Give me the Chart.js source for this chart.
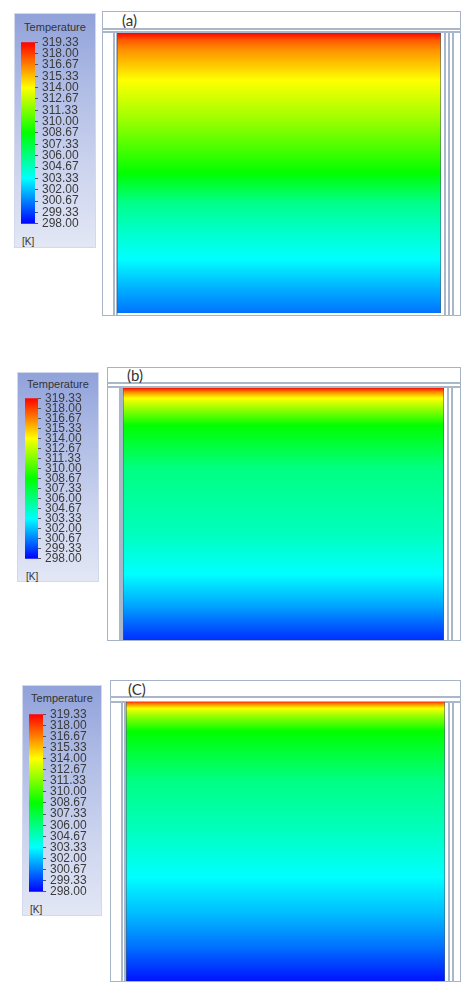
<!DOCTYPE html>
<html>
<head>
<meta charset="utf-8">
<script src="https://cdn.jsdelivr.net/npm/chart.js@4.4.1/dist/chart.umd.min.js"></script>
<style>
  html, body { margin: 0; padding: 0; background: #fff; }
  body { position: relative; width: 462px; height: 983px; overflow: hidden;
         font-family: "Liberation Sans", Arial, sans-serif; }
  canvas { position: absolute; }
  .legend { position: absolute; box-sizing: border-box; border: 1px solid #d3d9ec;
            background: linear-gradient(to bottom, #91a2da 0%, #aebbe5 30%, #cbd3ee 65%, #e3e7f5 100%); }
  .legend .ttl { position: absolute; left: 0; right: 0; text-align: center;
                 font-size: 11px; line-height: 12px; color: #333; }
  .legend .unit { position: absolute; font-size: 10px; line-height: 11px; color: #333; }
  .frame { position: absolute; box-sizing: border-box; border: 1.5px solid #a6b4c8; }
  .ln { position: absolute; background: #a9b7ca; }
  .edge { position: absolute; background: rgba(70, 95, 115, 0.55); }
  .tag { position: absolute; font-family: Lato, "Open Sans", sans-serif;
         font-size: 15px; line-height: 15px; color: #333; }
</style>
</head>
<body>
<script>
// Temperature scale of the contour legend [K]
const TEMP_MIN = 298.00;
const TEMP_MAX = 319.33;
const tickLabels = ['319.33', '318.00', '316.67', '315.33', '314.00', '312.67', '311.33',
                    '310.00', '308.67', '307.33', '306.00', '304.67', '303.33', '302.00',
                    '300.67', '299.33', '298.00'];

// Vertical temperature profiles (relative height 0 = bottom, 1 = top)
const heightA = [0.000, 0.082, 0.189, 0.296, 0.393, 0.500, 0.689, 0.832, 0.939, 0.975, 1.000];
const tempA   = [300.4, 301.6, 303.3, 304.5, 305.8, 308.7, 311.9, 314.0, 316.3, 317.5, 319.3];

const heightB = [0.000, 0.020, 0.139, 0.258, 0.417, 0.683, 0.853, 0.921, 0.960, 0.984, 1.000];
const tempB   = [299.0, 299.3, 301.5, 303.3, 304.7, 306.0, 308.7, 312.0, 314.0, 316.5, 319.0];

const heightC = [0.000, 0.118, 0.237, 0.369, 0.538, 0.717, 0.896, 0.953, 0.978, 0.996, 1.000];
const tempC   = [298.4, 300.3, 301.9, 303.3, 304.7, 305.9, 308.7, 312.0, 314.0, 317.0, 318.5];

const panelTags = ['(a)', '(b)', '(C)'];

// Page layout of the three panels (pixels)
const layouts = [
  { legend: { x: 14, y: 13, w: 82, h: 235, ttl: 7, unitX: 7, unitY: 222 },
    bar: { x: 21, w: 14, top: 39, bottom: 227 }, font: 12,
    frame: { x: 102, y: 11, w: 359, h: 305, strip1: 28, strip2: 31, left: [113, 116], right: [444, 448, 452] },
    plot: { x: 117, y: 33, w: 324, h: 280 }, tag: { x: 122, y: 13 } },
  { legend: { x: 17, y: 372, w: 82, h: 210, ttl: 5, unitX: 8, unitY: 198 },
    bar: { x: 25, w: 13, top: 395, bottom: 562 }, font: 12,
    frame: { x: 107, y: 367, w: 354, h: 274, strip1: 382, strip2: 386, left: [119, 121], right: [447, 451] },
    plot: { x: 123, y: 388, w: 321, h: 252 }, tag: { x: 127, y: 368 } },
  { legend: { x: 22, y: 685, w: 80, h: 231, ttl: 6, unitX: 7, unitY: 218 },
    bar: { x: 29, w: 14, top: 711, bottom: 895 }, font: 12,
    frame: { x: 110, y: 680, w: 351, h: 302, strip1: 696, strip2: 701, left: [121, 124], right: [448, 452] },
    plot: { x: 126, y: 702, w: 319, h: 279 }, tag: { x: 128, y: 682 } }
];

const profiles = [
  { h: heightA, t: tempA },
  { h: heightB, t: tempB },
  { h: heightC, t: tempC }
];

// Fluent-style rainbow: blue -> cyan -> green -> yellow -> red
const RAINBOW = ['rgb(0,0,255)', 'rgb(0,255,255)', 'rgb(0,255,0)', 'rgb(255,255,0)', 'rgb(255,0,0)'];
function rainbow(T) {
  let s = (T - TEMP_MIN) / (TEMP_MAX - TEMP_MIN);
  s = Math.max(0, Math.min(1, s)) * 4;
  const i = Math.min(3, Math.floor(s)), f = s - i;
  const c = [[0, 0, 255], [0, 255, 255], [0, 255, 0], [255, 255, 0], [255, 0, 0]];
  const a = c[i], b = c[i + 1];
  return 'rgb(' + a.map((v, k) => Math.round(v + (b[k] - v) * f)).join(',') + ')';
}
const BREAKS = [0.25, 0.5, 0.75].map(f => TEMP_MIN + f * (TEMP_MAX - TEMP_MIN));

function el(cls, css, text) {
  const d = document.createElement('div');
  d.className = cls;
  Object.assign(d.style, css);
  if (text) d.textContent = text;
  document.body.appendChild(d);
  return d;
}
function px(v) { return v + 'px'; }

function makeCanvas(x, y, w, h) {
  const c = document.createElement('canvas');
  c.width = w; c.height = h;
  c.style.left = px(x); c.style.top = px(y);
  c.style.width = px(w); c.style.height = px(h);
  document.body.appendChild(c);
  return c;
}

const baseOptions = {
  responsive: false, animation: false, events: [],
  devicePixelRatio: 1,
  plugins: { legend: { display: false }, tooltip: { enabled: false } }
};

layouts.forEach((L, idx) => {
  // legend panel
  const lg = el('legend', { left: px(L.legend.x), top: px(L.legend.y), width: px(L.legend.w), height: px(L.legend.h) });
  const t = document.createElement('div');
  t.className = 'ttl'; t.style.top = px(L.legend.ttl); t.textContent = 'Temperature';
  lg.appendChild(t);
  const u = document.createElement('div');
  u.className = 'unit'; u.style.left = px(L.legend.unitX); u.style.top = px(L.legend.unitY); u.textContent = '[K]';
  lg.appendChild(u);

  // colour bar with its tick labels
  const pad = 8;
  const cbW = 72, cbTop = L.bar.top - pad, cbH = (L.bar.bottom - L.bar.top) + 2 * pad;
  const cb = makeCanvas(L.bar.x, cbTop, cbW, cbH);
  const tickValues = tickLabels.map(Number);
  new Chart(cb, {
    type: 'bar',
    data: {
      labels: ['T'],
      datasets: [{
        data: [[TEMP_MIN, TEMP_MAX]],
        borderWidth: 0, borderSkipped: false,
        barPercentage: 1, categoryPercentage: 1,
        backgroundColor: (ctx) => {
          const ch = ctx.chart;
          if (!ch.chartArea) return 'rgba(0,0,0,0)';
          const y = ch.scales.y;
          const g = ch.ctx.createLinearGradient(0, y.getPixelForValue(TEMP_MIN), 0, y.getPixelForValue(TEMP_MAX));
          RAINBOW.forEach((c, i) => g.addColorStop(i / 4, c));
          return g;
        }
      }]
    },
    options: Object.assign({}, baseOptions, {
      layout: { padding: { top: pad, bottom: pad, left: 0, right: 0 } },
      scales: {
        x: { display: false },
        y: {
          position: 'right', min: TEMP_MIN, max: TEMP_MAX,
          afterFit: (s) => { s.width = cbW - L.bar.w; },
          afterBuildTicks: (s) => { s.ticks = tickValues.map(v => ({ value: v })); },
          border: { display: false },
          grid: { drawOnChartArea: false, drawTicks: true, tickLength: 3, color: '#555', lineWidth: 1 },
          ticks: {
            autoSkip: false, padding: 4, color: '#3a3a3a',
            font: { family: '"Liberation Sans", Arial, sans-serif', size: L.font },
            callback: (v) => tickLabels[tickValues.indexOf(v)] ?? v.toFixed(2)
          }
        }
      }
    })
  });

  // frame of the domain
  const F = L.frame;
  el('frame', { left: px(F.x), top: px(F.y), width: px(F.w), height: px(F.h) });
  el('ln', { left: px(F.x), top: px(F.strip1), width: px(F.w), height: '1.5px' });
  el('ln', { left: px(F.x), top: px(F.strip2), width: px(F.w), height: '1.5px' });
  const bottom = F.y + F.h;
  F.left.concat(F.right).forEach(x => {
    el('ln', { left: px(x), top: px(F.strip2), width: '1.5px', height: px(bottom - F.strip2) });
  });
  el('tag', { left: px(L.tag.x), top: px(L.tag.y) }, panelTags[idx]);

  // temperature contour of the domain
  const P = L.plot;
  const prof = profiles[idx];
  const cv = makeCanvas(P.x, P.y, P.w, P.h);
  new Chart(cv, {
    type: 'bar',
    data: {
      labels: ['domain'],
      datasets: [{
        data: [[0, 1]],
        borderWidth: 0, borderSkipped: false,
        barPercentage: 1, categoryPercentage: 1,
        backgroundColor: (ctx) => {
          const ch = ctx.chart;
          if (!ch.chartArea) return 'rgba(0,0,0,0)';
          const y = ch.scales.y;
          const g = ch.ctx.createLinearGradient(0, y.getPixelForValue(0), 0, y.getPixelForValue(1));
          const hs = prof.h, ts = prof.t;
          for (let i = 0; i < hs.length; i++) {
            g.addColorStop(hs[i], rainbow(ts[i]));
            if (i < hs.length - 1) {
              // extra stops where the profile crosses a colour-map knot
              const t0 = ts[i], t1 = ts[i + 1];
              BREAKS.forEach(b => {
                if ((b - t0) * (b - t1) < 0) {
                  const hb = hs[i] + (b - t0) / (t1 - t0) * (hs[i + 1] - hs[i]);
                  g.addColorStop(hb, rainbow(b));
                }
              });
            }
          }
          return g;
        }
      }]
    },
    options: Object.assign({}, baseOptions, {
      layout: { padding: 0 },
      scales: { x: { display: false }, y: { display: false, min: 0, max: 1 } }
    })
  });
  // wall edges
  el('edge', { left: px(P.x), top: px(P.y), width: '1px', height: px(P.h) });
  el('edge', { left: px(P.x + P.w - 1), top: px(P.y), width: '1px', height: px(P.h) });
});
</script>
</body>
</html>
